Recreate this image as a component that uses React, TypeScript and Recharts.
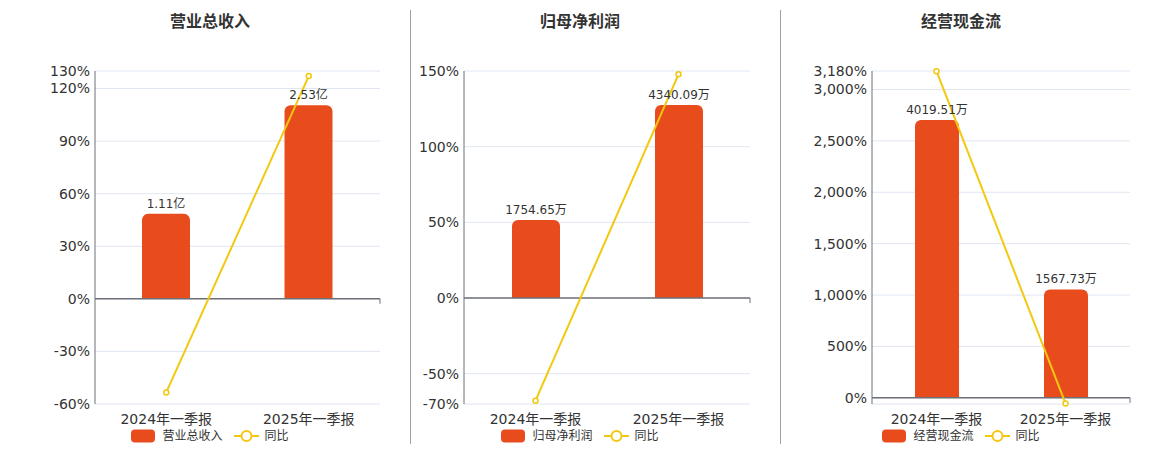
import React from "react";
import {
  Bar,
  CartesianGrid,
  ComposedChart,
  LabelList,
  Legend,
  Line,
  ReferenceDot,
  ReferenceLine,
  XAxis,
  YAxis,
} from "recharts";

const PERIODS = ["2024年一季报", "2025年一季报"];

// 营业总收入, 亿
const REVENUE = [1.11, 2.53];
const REVENUE_YOY = [-53.4, 127.1];
const REVENUE_TICKS = [-60, -30, 0, 30, 60, 90, 120, 130];

// 归母净利润, 万
const PROFIT = [1754.65, 4340.09];
const PROFIT_YOY = [-67.8, 147.8];
const PROFIT_TICKS = [-70, -50, 0, 50, 100, 150];

// 经营现金流, 万
const CASH = [4019.51, 1567.73];
const CASH_YOY = [3178, -54];
const CASH_TICKS = [-60, 0, 500, 1000, 1500, 2000, 2500, 3000, 3180];

const BAR_COLOR = "#E84C1D";
const LINE_COLOR = "#F2C811";
const AXIS_COLOR = "#6E7079";
const GRID_COLOR = "#E0E6F1";
const TEXT_COLOR = "#333";
const FONT = '"DejaVu Sans", "Noto Sans CJK SC", sans-serif';

function LegendContent({ payload }: { payload?: any[] }) {
  // bar swatch first, then the line
  const items = [...(payload ?? [])].sort(
    (a, b) => (a.type === "rect" ? 0 : 1) - (b.type === "rect" ? 0 : 1),
  );
  return (
    <div
      style={{
        display: "flex",
        justifyContent: "center",
        alignItems: "center",
        gap: 11,
        fontSize: 12,
        lineHeight: "16px",
        color: TEXT_COLOR,
      }}
    >
      {items.map((e) => (
        <div key={e.value} style={{ display: "flex", alignItems: "center", gap: 6 }}>
          <svg width={25} height={14}>
            {e.type === "rect" ? (
              <rect x={0} y={0.5} width={24} height={13} rx={4} fill={e.color} />
            ) : (
              <g>
                <line x1={0} y1={7} x2={25} y2={7} stroke={e.color} strokeWidth={2} />
                <circle cx={12.5} cy={7} r={5} fill="#fff" stroke={e.color} strokeWidth={2} />
              </g>
            )}
          </svg>
          <span>{e.value}</span>
        </div>
      ))}
    </div>
  );
}

const tickMark = (p: any) => (
  <line x1={p.cx} y1={p.cy} x2={p.cx} y2={p.cy + 5} stroke={AXIS_COLOR} strokeWidth={1} />
);

function Panel({
  title,
  name,
  values,
  yoy,
  ticks,
  unit,
  left,
  width,
  axisWidth,
  barSize,
  center,
  hideLabels = [],
}: {
  title: string;
  name: string;
  values: number[];
  yoy: number[];
  ticks: number[];
  unit: string;
  left: number;
  width: number;
  axisWidth: number;
  barSize: number;
  center: number;
  hideLabels?: number[];
}) {
  const data = PERIODS.map((period, i) => ({
    period,
    value: values[i],
    yoy: yoy[i],
    label: `${values[i].toFixed(2)}${unit}`,
  }));
  const pctMin = ticks[0];
  const pctMax = ticks[ticks.length - 1];
  // bar axis shares its zero with the percentage axis
  const valMax = Math.max(...values) / 0.85;
  const valMin = (valMax * pctMin) / pctMax;

  return (
    <div style={{ position: "absolute", left, top: 0, width, height: 450 }}>
      <div
        style={{
          position: "absolute",
          left: center - left - 100,
          width: 200,
          top: 12,
          textAlign: "center",
          fontSize: 16,
          fontWeight: "bold",
          lineHeight: "20px",
          color: TEXT_COLOR,
        }}
      >
        {title}
      </div>
      <ComposedChart
        width={width}
        height={450}
        data={data}
        margin={{ top: 71, right: 30, bottom: 16, left: 0 }}
      >
        <CartesianGrid xAxisId="cat" yAxisId="pct" stroke={GRID_COLOR} vertical={false} />
        <XAxis
          xAxisId="cat"
          dataKey="period"
          interval={0}
          axisLine={false}
          tickLine={false}
          tickMargin={4}
          tick={{ fill: TEXT_COLOR, fontSize: 14 }}
        />
        <XAxis xAxisId="pos" type="number" domain={[0, 2]} hide />
        <YAxis
          yAxisId="pct"
          width={axisWidth}
          domain={[pctMin, pctMax]}
          ticks={ticks}
          interval={0}
          axisLine={{ stroke: AXIS_COLOR }}
          tickLine={false}
          tickSize={3}
          tickMargin={2}
          tick={{ fill: TEXT_COLOR, fontSize: 14 }}
          tickFormatter={(v: number) =>
            hideLabels.includes(v) ? "" : `${v.toLocaleString("en-US")}%`
          }
        />
        <YAxis yAxisId="val" hide domain={[valMin, valMax]} />
        <Bar
          xAxisId="cat"
          yAxisId="val"
          dataKey="value"
          name={name}
          fill={BAR_COLOR}
          barSize={barSize}
          radius={[6, 6, 0, 0]}
          legendType="rect"
          isAnimationActive={false}
        >
          <LabelList dataKey="label" position="top" offset={6} fill={TEXT_COLOR} fontSize={12} />
        </Bar>
        <ReferenceLine xAxisId="cat" yAxisId="pct" y={0} stroke={AXIS_COLOR} strokeWidth={1.5} />
        <ReferenceDot xAxisId="pos" yAxisId="pct" x={1} y={0} shape={tickMark} />
        <ReferenceDot xAxisId="pos" yAxisId="pct" x={2} y={0} shape={tickMark} />
        <Line
          xAxisId="cat"
          yAxisId="pct"
          dataKey="yoy"
          name="同比"
          stroke={LINE_COLOR}
          strokeWidth={2}
          dot={{ r: 2.5, fill: "#fff", stroke: LINE_COLOR, strokeWidth: 1.5 }}
          activeDot={false}
          legendType="circle"
          isAnimationActive={false}
        />
        <Legend
          layout="horizontal"
          verticalAlign="middle"
          align="center"
          content={<LegendContent />}
          wrapperStyle={{ left: center - left - 110, width: 220, top: 428, height: 16 }}
        />
      </ComposedChart>
    </div>
  );
}

export default function App() {
  return (
    <div
      style={{
        position: "absolute",
        left: 0,
        top: 0,
        width: 1160,
        height: 450,
        background: "#fff",
        fontFamily: FONT,
      }}
    >
      <Panel
        title="营业总收入"
        name="营业总收入"
        values={REVENUE}
        yoy={REVENUE_YOY}
        ticks={REVENUE_TICKS}
        unit="亿"
        left={0}
        width={410}
        axisWidth={95}
        barSize={48}
        center={210}
      />
      <Panel
        title="归母净利润"
        name="归母净利润"
        values={PROFIT}
        yoy={PROFIT_YOY}
        ticks={PROFIT_TICKS}
        unit="万"
        left={410}
        width={370}
        axisWidth={54}
        barSize={48}
        center={580}
      />
      <Panel
        title="经营现金流"
        name="经营现金流"
        values={CASH}
        yoy={CASH_YOY}
        ticks={CASH_TICKS}
        unit="万"
        left={780}
        width={380}
        axisWidth={92}
        barSize={44}
        center={961}
        hideLabels={[-60]}
      />
      {[410, 780].map((x) => (
        <div
          key={x}
          style={{
            position: "absolute",
            left: x,
            top: 10,
            width: 1,
            height: 434,
            background: "#A0A0A0",
          }}
        />
      ))}
    </div>
  );
}
